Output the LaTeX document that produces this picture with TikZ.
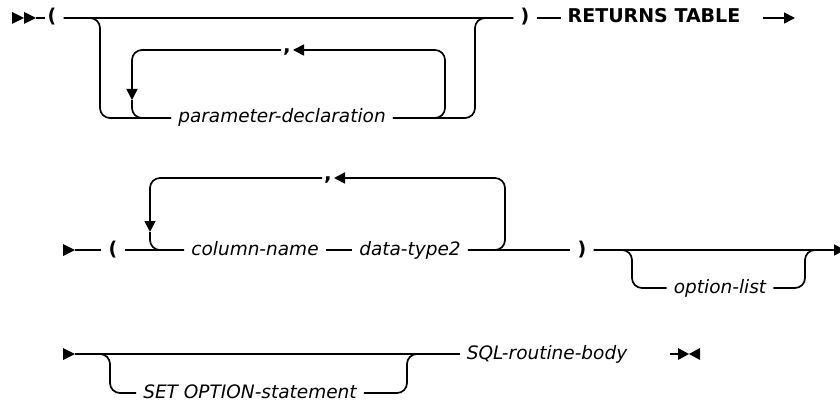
\documentclass[tikz,border=0pt]{standalone}
\usepackage{fontspec}
\setmainfont{DejaVu Sans}
\usetikzlibrary{arrows.meta}
\tikzset{
  kwtext/.style={font=\fontsize{19}{22}\selectfont\bfseries, inner xsep=7pt, inner ysep=0pt, text height=10pt, text depth=0pt},
  vartext/.style={font=\fontsize{18.5}{22}\selectfont\itshape, inner xsep=7pt, inner ysep=0pt, text height=10pt, text depth=0pt},
  commatext/.style={font=\fontsize{20}{22}\selectfont\bfseries, inner xsep=2pt, inner ysep=0pt, text height=6pt, text depth=0pt},
  rail/.style={line width=1.7pt, rounded corners=10pt},
  railarrow/.style={rail, -{Triangle[length=11pt,width=11pt]}}
}
\tikzset{
  startmark/.pic={
    \fill (0,-6) -- (12,0) -- (0,6) -- cycle;
    \fill (12,-6) -- (24,0) -- (12,6) -- cycle;
    \draw[line width=1.7pt] (24,0) -- (33,0);
  },
  contmark/.pic={
    \fill (0,-6) -- (12,0) -- (0,6) -- cycle;
  },
  endmark/.pic={
    \draw[line width=1.7pt] (0,0) -- (9,0);
    \fill (8,-6) -- (19,0) -- (8,6) -- cycle;
    \fill (30,-6) -- (19,0) -- (30,6) -- cycle;
  }
}

\begin{document}
\begin{tikzpicture}[x=1pt, y=-1pt]
  \useasboundingbox (0,0) rectangle (840,406);
  % first row
  \pic at (12,18) {startmark};
  \node[kwtext] (lp1) at (52,18) {(};
  \node[kwtext] (rp1) at (525,18) {)};
  \node[kwtext] (ret) at (654,18) {RETURNS TABLE};
  \node[vartext] (par) at (282,118) {parameter-declaration};
  \node[commatext] (comma1) at (287,50) {,};
  \coordinate (b1l) at (100,118);
  \coordinate (b1r) at (475,118);
  \coordinate (l1r) at (445,50);
  \coordinate (l1a) at (132,100);
  \coordinate (r1a) at (763,18);
  \coordinate (r1b) at (795,18);
  \draw[rail] (lp1) -- (rp1);
  \draw[rail] (lp1.east) -| (b1l) -- (par.west);
  \draw[rail] (par.east) -- (b1r) |- (rp1.west);
  % repeat loop of the parameter list
  \draw[railarrow] (par.east) -| (l1r) -- (comma1.east);
  \draw[railarrow] (comma1.west) -| (l1a);
  \draw[rail] (l1a) |- (par.west);
  \draw[rail] (rp1) -- (ret);
  \draw[railarrow] (r1a) -- (r1b);

  % second row
  \pic at (63,250) {contmark};
  \coordinate (c2s) at (75,250);
  \node[kwtext] (lp2) at (113,250) {(};
  \node[vartext] (col) at (255,250) {column-name};
  \node[vartext] (dt) at (410,250) {data-type2};
  \node[kwtext] (rp2) at (582,250) {)};
  \node[vartext] (optl) at (720,288) {option-list};
  \node[commatext] (comma2) at (328,178) {,};
  \coordinate (l2r) at (505,178);
  \coordinate (l2a) at (150,232);
  \coordinate (o2l) at (632,288);
  \coordinate (o2r) at (805,250);
  \coordinate (r2m) at (818,250);
  \coordinate (r2e) at (845,250);
  \draw[rail] (c2s) -- (lp2);
  \draw[rail] (lp2) -- (col);
  \draw[rail] (col) -- (dt);
  \draw[rail] (dt) -- (rp2);
  \draw[railarrow] (dt.east) -| (l2r) -- (comma2.east);
  \draw[railarrow] (comma2.west) -| (l2a);
  \draw[rail] (l2a) |- (col.west);
  \draw[railarrow] (rp2.east) -- (r2e);
  % optional option list
  \draw[rail] (rp2.east) -| (o2l) -- (optl.west);
  \draw[rail] (optl.east) -| (o2r) -- (r2m);

  % third row
  \pic at (63,354) {contmark};
  \coordinate (c3s) at (75,354);
  \node[vartext] (setopt) at (250,393) {SET OPTION-statement};
  \node[vartext] (sql) at (547,354) {SQL-routine-body};
  \coordinate (s3l) at (110,393);
  \coordinate (s3r) at (407,354);
  \coordinate (s3m) at (420,354);
  \coordinate (e3) at (670,354);
  \draw[rail] (c3s) -- (sql);
  \draw[rail] (c3s) -| (s3l) -- (setopt.west);
  \draw[rail] (setopt.east) -| (s3r) -- (s3m);
  \pic at (e3) {endmark};
\end{tikzpicture}
\end{document}
